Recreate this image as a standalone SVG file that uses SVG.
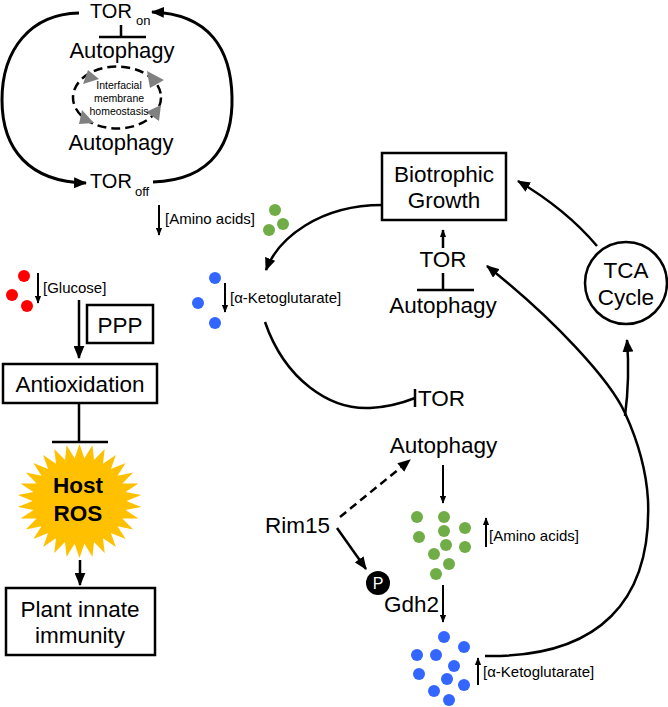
<svg xmlns="http://www.w3.org/2000/svg" width="668" height="707" viewBox="0 0 668 707">
<style>
text{font-family:"Liberation Sans",Arial,sans-serif;fill:#000}
.b{font-size:22.5px}
.m{font-size:20px}
.sub{font-size:13px}
.s{font-size:15px}
.xs{font-size:10.5px}
.box{fill:#fff;stroke:#000;stroke-width:2.5}
.ln{fill:none;stroke:#000;stroke-width:2.5}
.tk{fill:none;stroke:#000;stroke-width:3}
.thin{fill:none;stroke:#000;stroke-width:2}
.g{fill:#70AD47}
.bl{fill:#3366FF}
.r{fill:#FF0000}
.tri{fill:#808080}
</style>
<defs>
<marker id="ah" viewBox="0 0 12 10" markerWidth="13" markerHeight="11" refX="11" refY="5" orient="auto" markerUnits="userSpaceOnUse"><path d="M0,0 L12,5 L0,10 z" fill="#000"/></marker>
<marker id="as" viewBox="0 0 10 8" markerWidth="8" markerHeight="7" refX="9" refY="4" orient="auto" markerUnits="userSpaceOnUse"><path d="M0,0 L10,4 L0,8 z" fill="#000"/></marker>
</defs>

<g id="connectors">
<path class="tk" d="M79,13 C30,14 2,50 2,100 C2,150 30,182 86,183" marker-end="url(#ah)"/>
<path class="tk" d="M153,182 C215,180 233,140 232,97 C231,50 210,14 152,12" marker-end="url(#ah)"/>
<path class="ln" d="M121,25 V37 M99,37 H146"/>
<path class="ln" d="M382,205 C320,205 278,238 266,270" marker-end="url(#ah)"/>
<path class="ln" d="M265,322 C285,380 330,410 370,408 C390,407 405,402 415,398"/>
<path class="ln" d="M415,389 V407"/>
<path class="ln" d="M443,248 V230" marker-end="url(#as)"/>
<path class="ln" d="M443,273 V290 M417,290 H474"/>
<path class="ln" d="M597,246 C575,220 545,197 518,181" marker-end="url(#ah)"/>
<path class="ln" d="M485,656 C600,658 652,600 648,500 C646,465 636,437 625,413 C610,380 555,320 487,266" marker-end="url(#ah)"/>
<path class="ln" d="M625,416 Q630,378 627,340" marker-end="url(#ah)"/>
<path class="thin" d="M443,465 V503" marker-end="url(#as)"/>
<path class="ln" d="M340,517 L410,460" stroke-dasharray="8,5" marker-end="url(#ah)"/>
<path class="ln" d="M337,528 L366,569" marker-end="url(#ah)"/>
<path class="thin" d="M443,585 V622" marker-end="url(#as)"/>
<path class="thin" d="M38,273 V303" marker-end="url(#as)"/>
<path class="ln" d="M79,300 V358" marker-end="url(#ah)"/>
<path class="ln" d="M79,404 V442 M52,442 H108"/>
<path class="ln" d="M80,560 V585" marker-end="url(#ah)"/>
<path class="thin" d="M159,205 V235" marker-end="url(#as)"/>
<path class="thin" d="M225,283 V312" marker-end="url(#as)"/>
<path class="thin" d="M486,547 V518" marker-end="url(#as)"/>
<path class="thin" d="M478,685 V658" marker-end="url(#as)"/>
</g>

<g id="tor-on"><text class="m" x="90" y="18">TOR</text><text class="sub" x="136" y="25">on</text></g>
<g id="autophagy-top"><text class="b" x="122" y="58" text-anchor="middle" style="font-size:22px">Autophagy</text></g>
<g id="membrane-homeostasis">
<ellipse cx="117" cy="97.5" rx="44" ry="31" fill="none" stroke="#000" stroke-width="2.5" stroke-dasharray="9,5"/>
<polygon class="tri" points="83,84 88,70 99,79"/>
<polygon class="tri" points="147,71 164,80 150,88"/>
<polygon class="tri" points="161,105 146,112 159,121"/>
<polygon class="tri" points="82,110 79,124 94,123"/>
<text class="xs" x="119" y="89" text-anchor="middle">Interfacial</text>
<text class="xs" x="119" y="102" text-anchor="middle">membrane</text>
<text class="xs" x="119" y="115" text-anchor="middle">homeostasis</text>
</g>
<g id="autophagy-bottom"><text class="b" x="121" y="150" text-anchor="middle" style="font-size:22px">Autophagy</text></g>
<g id="tor-off"><text class="m" x="90" y="188">TOR</text><text class="sub" x="135" y="196">off</text></g>

<g id="amino-acids-low">
<circle class="g" cx="275" cy="210" r="6"/><circle class="g" cx="283" cy="224" r="6"/><circle class="g" cx="269" cy="230" r="6"/>
<text class="s" x="165" y="224">[Amino acids]</text>
</g>
<g id="akg-low">
<circle class="bl" cx="215" cy="278" r="6"/><circle class="bl" cx="198" cy="303" r="6"/><circle class="bl" cx="215" cy="323" r="6"/>
<text class="s" x="230" y="303">[α-Ketoglutarate]</text>
</g>
<g id="glucose">
<circle class="r" cx="24" cy="276" r="6"/><circle class="r" cx="12" cy="295" r="6"/><circle class="r" cx="27" cy="306" r="6"/>
<text class="s" x="43" y="293">[Glucose]</text>
</g>
<g id="ppp"><rect class="box" x="87" y="305" width="66" height="38"/><text class="b" x="120" y="333" text-anchor="middle">PPP</text></g>
<g id="antioxidation"><rect class="box" x="3" y="364" width="154" height="39"/><text class="b" x="80" y="392" text-anchor="middle">Antioxidation</text></g>
<g id="host-ros">
<polygon fill="#FFC000" points="79.5,444 84.4,458.2 92.4,445.2 94,460.1 104.7,448.9 103,463.8 115.9,454.9 110.9,469 125.6,462.9 117.5,475.7 133.2,472.5 122.4,483.5 138.5,483.4 125.5,492.1 141.2,495 126.5,501 141.2,507 125.5,509.9 138.5,518.6 122.4,518.5 133.2,529.5 117.5,526.3 125.6,539.1 110.9,533 115.9,547.1 103,538.2 104.7,553.1 94,541.9 92.4,556.8 84.4,543.8 79.5,558 74.6,543.8 66.6,556.8 65,541.9 54.3,553.1 56,538.2 43.1,547.1 48.1,533 33.4,539.1 41.5,526.3 25.8,529.5 36.6,518.5 20.5,518.6 33.5,509.9 17.8,507 32.5,501 17.8,495 33.5,492.1 20.5,483.4 36.6,483.5 25.8,472.5 41.5,475.7 33.4,462.9 48.1,469 43.1,454.9 56,463.8 54.3,448.9 65,460.1 66.6,445.2 74.6,458.2"/>
<text class="b" x="78" y="493" text-anchor="middle" font-weight="bold">Host</text>
<text class="b" x="78" y="521" text-anchor="middle" font-weight="bold">ROS</text>
</g>
<g id="plant-immunity"><rect class="box" x="6" y="588" width="149" height="67"/><text class="b" x="80" y="617" text-anchor="middle">Plant innate</text><text class="b" x="80" y="643" text-anchor="middle">immunity</text></g>

<g id="biotrophic-growth"><rect class="box" x="382" y="153" width="124" height="67"/><text class="b" x="444" y="182" text-anchor="middle">Biotrophic</text><text class="b" x="444" y="208" text-anchor="middle">Growth</text></g>
<g id="tor-upper"><text class="b" x="443" y="267" text-anchor="middle">TOR</text></g>
<g id="autophagy-upper"><text class="b" x="443" y="313" text-anchor="middle">Autophagy</text></g>
<g id="tca-cycle"><circle cx="626" cy="283" r="41" fill="#fff" stroke="#000" stroke-width="2.5"/><text class="b" x="626" y="278" text-anchor="middle">TCA</text><text class="b" x="626" y="305" text-anchor="middle">Cycle</text></g>
<g id="tor-lower"><text class="b" x="418" y="406">TOR</text></g>
<g id="autophagy-lower"><text class="b" x="443.5" y="453" text-anchor="middle">Autophagy</text></g>
<g id="rim15"><text class="b" x="265" y="533">Rim15</text></g>
<g id="gdh2"><circle cx="378" cy="583" r="12" fill="#000"/><text x="378" y="589" text-anchor="middle" style="font-size:16px;fill:#fff">P</text><text class="b" x="384" y="612">Gdh2</text></g>
<g id="amino-acids-high">
<circle class="g" cx="417" cy="517" r="6"/><circle class="g" cx="444" cy="517" r="6"/><circle class="g" cx="465" cy="528" r="6"/><circle class="g" cx="444" cy="531" r="6"/><circle class="g" cx="419" cy="537" r="6"/><circle class="g" cx="446" cy="545" r="6"/><circle class="g" cx="465" cy="547" r="6"/><circle class="g" cx="434" cy="554" r="6"/><circle class="g" cx="449" cy="564" r="6"/><circle class="g" cx="436" cy="574" r="6"/>
<text class="s" x="489" y="541">[Amino acids]</text>
</g>
<g id="akg-high">
<circle class="bl" cx="444" cy="637" r="6"/><circle class="bl" cx="464" cy="647" r="6"/><circle class="bl" cx="417" cy="655" r="6"/><circle class="bl" cx="436" cy="655" r="6"/><circle class="bl" cx="454" cy="666" r="6"/><circle class="bl" cx="419" cy="674" r="6"/><circle class="bl" cx="447" cy="679" r="6"/><circle class="bl" cx="464" cy="685" r="6"/><circle class="bl" cx="434" cy="691" r="6"/><circle class="bl" cx="449" cy="700" r="6"/>
<text class="s" x="483" y="677">[α-Ketoglutarate]</text>
</g>
</svg>
